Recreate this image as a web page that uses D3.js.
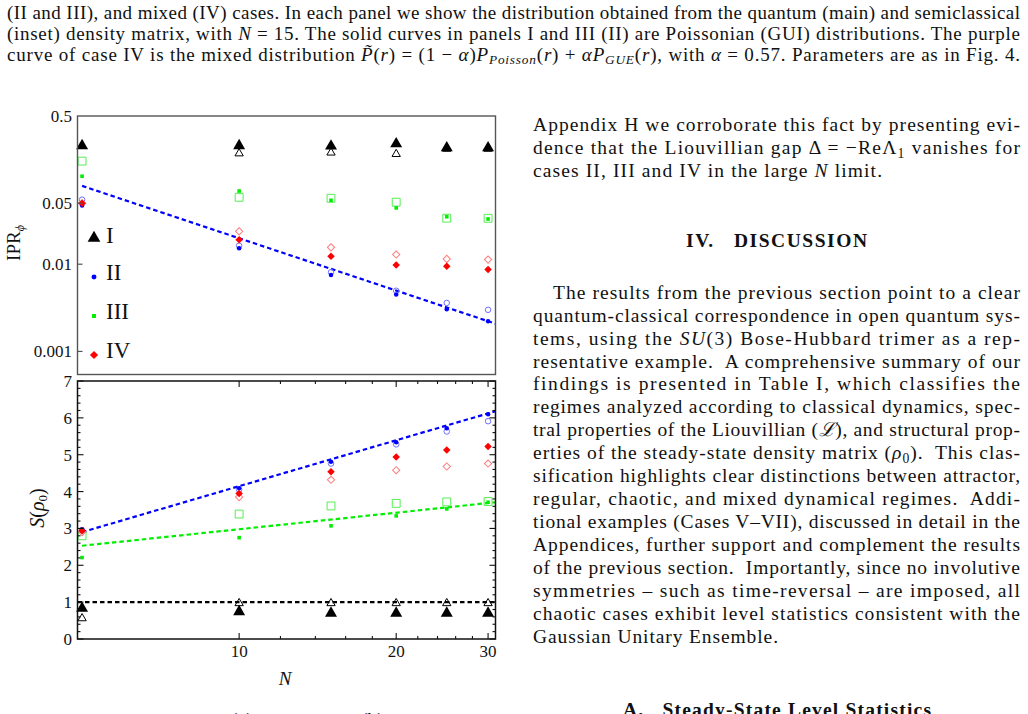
<!DOCTYPE html>
<html lang="en">
<head>
    <meta charset="UTF-8">
    <title>IPR and entropy vs N</title>
    <script src="https://d3js.org/d3.v7.min.js"></script>
    <style>
        body { margin: 0; background: white; }
        text, tspan { font-family: 'Liberation Serif', 'DejaVu Serif', serif; fill: #111; }
        .page { font-size: 19.5px; }
        .caption { font-size: 19px; }
        .tick-label { font-size: 17px; }
        .legend-label { font-size: 23px; }
        .bold { font-weight: bold; }
    </style>
</head>
<body>
<script>
    // ---- data ----
    const cases = ['I', 'II', 'III', 'IV'];
    const sizesN = [5, 10, 15, 20, 25, 30];

    // inverse participation ratio (top panel), filled and open markers
    const iprFilled = {
        I:   [0.228, 0.228, 0.226, 0.240, 0.216, 0.216],
        II:  [0.047, 0.0152, 0.0075, 0.0045, 0.00305, 0.00222],
        III: [0.102, 0.069, 0.054, 0.0442, 0.035, 0.033],
        IV:  [0.050, 0.0191, 0.0123, 0.0098, 0.0095, 0.0087]
    };
    const iprOpen = {
        I:   [0.228, 0.186, 0.190, 0.183, 0.210, 0.210],
        II:  [0.055, 0.0163, 0.0081, 0.00496, 0.0036, 0.0030],
        III: [0.152, 0.0585, 0.057, 0.0514, 0.0337, 0.0336],
        IV:  [0.050, 0.0238, 0.0156, 0.0129, 0.0115, 0.0113]
    };

    // entropy S(rho_0) (bottom panel)
    const entFilled = {
        I:   [0.83, 0.74, 0.70, 0.70, 0.70, 0.70],
        II:  [2.98, 4.09, 4.81, 5.34, 5.72, 6.10],
        III: [2.21, 2.75, 3.07, 3.34, 3.53, 3.71],
        IV:  [2.94, 3.95, 4.54, 4.94, 5.13, 5.22]
    };
    const entOpen = {
        I:   [0.56, 0.97, 0.97, 0.97, 0.97, 0.97],
        II:  [2.95, 4.05, 4.76, 5.28, 5.63, 5.91],
        III: [2.80, 3.39, 3.61, 3.68, 3.72, 3.73],
        IV:  [2.90, 3.85, 4.32, 4.58, 4.68, 4.76]
    };

    // dashed fit lines, given by their end points [N, value]
    const iprFitII = [[5, 0.079], [31, 0.00208]];
    const entFitII = [[5, 2.90], [31, 6.18]];
    const entFitIII = [[5, 2.53], [31, 3.71]];
    const entReference = [[4.9, 1], [31, 1]];

    const iprTicks = [0.5, 0.05, 0.01, 0.001];
    const iprTickLabels = ['0.5', '0.05', '0.01', '0.001'];
    const entTicks = [0, 1, 2, 3, 4, 5, 6, 7];
    const nTicks = [10, 20, 30];
    const nMinorTicks = [12, 14, 16, 18, 22, 24, 26, 28];

    // ---- page text (scan of the paper around the figure) ----
    const captionLines = [
        [['(II and III), and mixed (IV) cases. In each panel we show the distribution obtained from the quantum (main) and semiclassical']],
        [['(inset) density matrix, with '], ['N', 'i'], [' = 15. The solid curves in panels I and III (II) are Poissonian (GUI) distributions. The purple']],
        [['curve of case IV is the mixed distribution '], ['P\u0303', 'i'], ['('], ['r', 'i'], [') = (1 \u2212 '], ['\u03b1', 'i'], [')'], ['P', 'i'], ['Poisson', 'is'], ['('], ['r', 'i'], [') + '], ['\u03b1P', 'i'], ['GUE', 'is'], ['('], ['r', 'i'], ['), with '], ['\u03b1', 'i'], [' = 0.57. Parameters are as in Fig. 4.']]
    ];
    const captionY = [19, 40, 61];

    const columnLines = [
        {y: 131, x: 533, w: 487, parts: [['Appendix H we corroborate this fact by presenting evi-']]},
        {y: 154, x: 533, w: 487, parts: [['dence that the Liouvillian gap \u0394 = \u2212Re\u039b'], ['1', 's'], [' vanishes for']]},
        {y: 177, x: 533, w: 349, parts: [['cases II, III and IV in the large '], ['N', 'i'], [' limit.']]},
        {y: 299, x: 553, w: 467, parts: [['The results from the previous section point to a clear']]},
        {y: 322, x: 533, w: 487, parts: [['quantum-classical correspondence in open quantum sys-']]},
        {y: 345, x: 533, w: 487, parts: [['tems, using the '], ['SU', 'i'], ['(3) Bose-Hubbard trimer as a rep-']]},
        {y: 368, x: 533, w: 487, parts: [['resentative example.  A comprehensive summary of our']]},
        {y: 390, x: 533, w: 487, parts: [['findings is presented in Table I, which classifies the']]},
        {y: 413, x: 533, w: 487, parts: [['regimes analyzed according to classical dynamics, spec-']]},
        {y: 436, x: 533, w: 487, parts: [['tral properties of the Liouvillian ('], ['\u2112', 'i'], ['), and structural prop-']]},
        {y: 459, x: 533, w: 487, parts: [['erties of the steady-state density matrix ('], ['\u03c1', 'i'], ['0', 's'], [').  This clas-']]},
        {y: 482, x: 533, w: 487, parts: [['sification highlights clear distinctions between attractor,']]},
        {y: 505, x: 533, w: 487, parts: [['regular, chaotic, and mixed dynamical regimes.  Addi-']]},
        {y: 528, x: 533, w: 487, parts: [['tional examples (Cases V\u2013VII), discussed in detail in the']]},
        {y: 551, x: 533, w: 487, parts: [['Appendices, further support and complement the results']]},
        {y: 574, x: 533, w: 487, parts: [['of the previous section.  Importantly, since no involutive']]},
        {y: 597, x: 533, w: 487, parts: [['symmetries \u2013 such as time-reversal \u2013 are imposed, all']]},
        {y: 620, x: 533, w: 487, parts: [['chaotic cases exhibit level statistics consistent with the']]},
        {y: 643, x: 533, w: 245, parts: [['Gaussian Unitary Ensemble.']]}
    ];
    const headings = [
        {y: 247, x: 686, w: 181, text: 'IV.   DISCUSSION'},
        {y: 716, x: 623, w: 308, text: 'A.   Steady-State Level Statistics'}
    ];

    // ---- styling ----
    const width = 1028;
    const height = 714;
    const serif = "'Liberation Serif', 'DejaVu Serif', serif";
    const colors = {I: '#000000', II: '#0000ff', III: '#00ee00', IV: '#ff0000'};
    const lightColors = {I: '#000000', II: '#6f6fff', III: '#55ee55', IV: '#ff7c7c'};

    const svg = d3.select('body').append('svg').attr('width', width).attr('height', height)
        .style('font-family', serif);

    const x = d3.scaleLog().domain([4.9, 31]).range([77.5, 495.5]);
    const yIpr = d3.scaleLog().domain([0.000544, 0.5]).range([374.5, 116]);
    const yEnt = d3.scaleLinear().domain([0, 7]).range([639, 381]);

    // marker shapes: [type, filled size, open size, rotate]
    const shapes = {
        I:   [d3.symbolTriangle, 62, 30, 0],
        II:  [d3.symbolCircle, 16, 24, 0],
        III: [d3.symbolSquare, 13, 62, 0],
        IV:  [d3.symbolSquare, 28, 26, 45]
    };

    function addText(g, parts, attrs) {
        const t = g.append('text').style('white-space', 'pre').style('font-family', serif);
        for (const k in attrs) t.attr(k, attrs[k]);
        parts.forEach(function(p) {
            const s = t.append('tspan').text(p[0]).style('font-family', serif);
            const st = p[1] || '';
            if (st.includes('i')) s.style('font-style', 'italic');
            if (st.includes('s')) s.attr('baseline-shift', '-25%').style('font-size', '70%');
        });
        return t;
    }

    // page text
    const page = svg.append('g').attr('class', 'page');
    captionLines.forEach(function(parts, i) {
        addText(page, parts, {x: 7, y: captionY[i], textLength: 1013, lengthAdjust: 'spacing', class: 'caption'});
    });
    columnLines.forEach(function(l) {
        addText(page, l.parts, {x: l.x, y: l.y, textLength: l.w, lengthAdjust: 'spacing'});
    });
    headings.forEach(function(h) {
        page.append('text').attr('class', 'bold').attr('x', h.x).attr('y', h.y)
            .attr('textLength', h.w).attr('lengthAdjust', 'spacing')
            .style('white-space', 'pre').text(h.text);
    });

    function drawSeries(g, y, values, open, name) {
        const sh = shapes[name];
        const sym = d3.symbol().type(sh[0]).size(open ? sh[2] : sh[1]);
        g.selectAll(null)
            .data(sizesN.map((n, i) => [n, values[name][i]])).enter()
            .append('path')
            .attr('d', sym)
            .attr('transform', d => `translate(${x(d[0])},${y(d[1])}) rotate(${sh[3]})`)
            .style('fill', open ? 'white' : colors[name])
            .style('fill-opacity', open ? 0 : 1)
            .style('stroke', open ? lightColors[name] : 'none')
            .style('stroke-width', 1);
    }

    function drawFit(g, y, pts, color) {
        g.append('path')
            .attr('d', d3.line().x(d => x(d[0])).y(d => y(d[1]))(pts))
            .style('fill', 'none')
            .style('stroke', color)
            .style('stroke-width', 2.2)
            .style('stroke-dasharray', '4.5,3');
    }

    // ---- top panel: IPR ----
    const topPanel = svg.append('g');
    drawFit(topPanel, yIpr, iprFitII, '#0000ff');
    cases.forEach(c => drawSeries(topPanel, yIpr, iprOpen, true, c));
    cases.forEach(c => drawSeries(topPanel, yIpr, iprFilled, false, c));

    topPanel.append('rect')
        .attr('x', x.range()[0]).attr('y', yIpr.range()[1])
        .attr('width', x.range()[1] - x.range()[0])
        .attr('height', yIpr.range()[0] - yIpr.range()[1])
        .style('fill', 'none').style('stroke', '#555').style('stroke-width', 1.4);

    topPanel.selectAll(null).data(iprTicks.slice(1)).enter().append('line')
        .attr('x1', x.range()[0]).attr('x2', x.range()[0] + 5)
        .attr('y1', d => yIpr(d)).attr('y2', d => yIpr(d))
        .style('stroke', '#555').style('stroke-width', 1.2);
    topPanel.selectAll(null).data(iprTicks).enter().append('text')
        .attr('class', 'tick-label')
        .attr('x', 72).attr('y', d => yIpr(d) + 5.5)
        .attr('text-anchor', 'end')
        .text((d, i) => iprTickLabels[i]);

    const iprTitle = topPanel.append('text').attr('transform', 'translate(20,243) rotate(-90)')
        .attr('text-anchor', 'middle').style('font-size', '19px');
    iprTitle.append('tspan').text('IPR');
    iprTitle.append('tspan').text('\u03d5').style('font-style', 'italic')
        .style('font-size', '12px').attr('baseline-shift', '-30%');

    // legend
    const legendY = {I: 235, II: 272, III: 311, IV: 350};
    const legend = topPanel.append('g');
    cases.forEach(function(c) {
        const sh = shapes[c];
        legend.append('path')
            .attr('d', d3.symbol().type(sh[0]).size(c == 'I' ? 70 : sh[1] * 1.2))
            .attr('transform', `translate(94,${legendY[c] + (c == 'I' ? 3 : 5)}) rotate(${sh[3]})`)
            .style('fill', colors[c]);
        legend.append('text').attr('class', 'legend-label')
            .attr('x', 106).attr('y', legendY[c] + 8).text(c);
    });

    // ---- bottom panel: S(rho_0) ----
    const bottomPanel = svg.append('g');
    drawFit(bottomPanel, yEnt, entReference, '#000000');
    drawFit(bottomPanel, yEnt, entFitIII, '#00ee00');
    drawFit(bottomPanel, yEnt, entFitII, '#0000ff');
    cases.forEach(c => drawSeries(bottomPanel, yEnt, entOpen, true, c));
    cases.forEach(c => drawSeries(bottomPanel, yEnt, entFilled, false, c));

    const bx0 = x.range()[0], bx1 = x.range()[1], by0 = yEnt.range()[0], by1 = yEnt.range()[1];
    bottomPanel.append('rect')
        .attr('x', bx0).attr('y', by1).attr('width', bx1 - bx0).attr('height', by0 - by1)
        .style('fill', 'none').style('stroke', '#111').style('stroke-width', 1.5);

    const yMinor = d3.range(0, 7.01, 0.2).filter(v => Math.abs(v - Math.round(v)) > 0.01);
    const tickG = bottomPanel.append('g').style('stroke', '#111').style('stroke-width', 1.1);
    [[entTicks, 6], [yMinor, 3]].forEach(function(t) {
        tickG.selectAll(null).data(t[0]).enter().append('line')
            .attr('x1', bx0).attr('x2', bx0 + t[1]).attr('y1', d => yEnt(d)).attr('y2', d => yEnt(d));
        tickG.selectAll(null).data(t[0]).enter().append('line')
            .attr('x1', bx1).attr('x2', bx1 - t[1]).attr('y1', d => yEnt(d)).attr('y2', d => yEnt(d));
    });
    [[nTicks, 6], [nMinorTicks, 3]].forEach(function(t) {
        tickG.selectAll(null).data(t[0]).enter().append('line')
            .attr('x1', d => x(d)).attr('x2', d => x(d)).attr('y1', by0).attr('y2', by0 - t[1]);
        tickG.selectAll(null).data(t[0]).enter().append('line')
            .attr('x1', d => x(d)).attr('x2', d => x(d)).attr('y1', by1).attr('y2', by1 + t[1]);
    });

    bottomPanel.selectAll(null).data(entTicks).enter().append('text')
        .attr('class', 'tick-label')
        .attr('x', 72).attr('y', d => yEnt(d) + 6)
        .attr('text-anchor', 'end')
        .text(d => d);
    bottomPanel.selectAll(null).data(nTicks).enter().append('text')
        .attr('class', 'tick-label')
        .attr('x', d => x(d)).attr('y', 657)
        .attr('text-anchor', 'middle')
        .text(d => d);

    bottomPanel.append('text').attr('x', 285).attr('y', 685).attr('text-anchor', 'middle')
        .style('font-style', 'italic').style('font-size', '19px').text('N');

    const entTitle = bottomPanel.append('text').attr('transform', 'translate(44,508) rotate(-90)')
        .attr('text-anchor', 'middle').style('font-size', '20px');
    entTitle.append('tspan').text('S').style('font-style', 'italic');
    entTitle.append('tspan').text('(');
    entTitle.append('tspan').text('\u03c1').style('font-style', 'italic');
    entTitle.append('tspan').text('0').style('font-size', '13px').attr('baseline-shift', '-25%');
    entTitle.append('tspan').text(')');

    // sub-figure labels of the next figure, cut at the page bottom
    page.append('text').attr('x', 231).attr('y', 726).text('(a)');
    page.append('text').attr('x', 361).attr('y', 726).text('(b)');
</script>
</body>
</html>
